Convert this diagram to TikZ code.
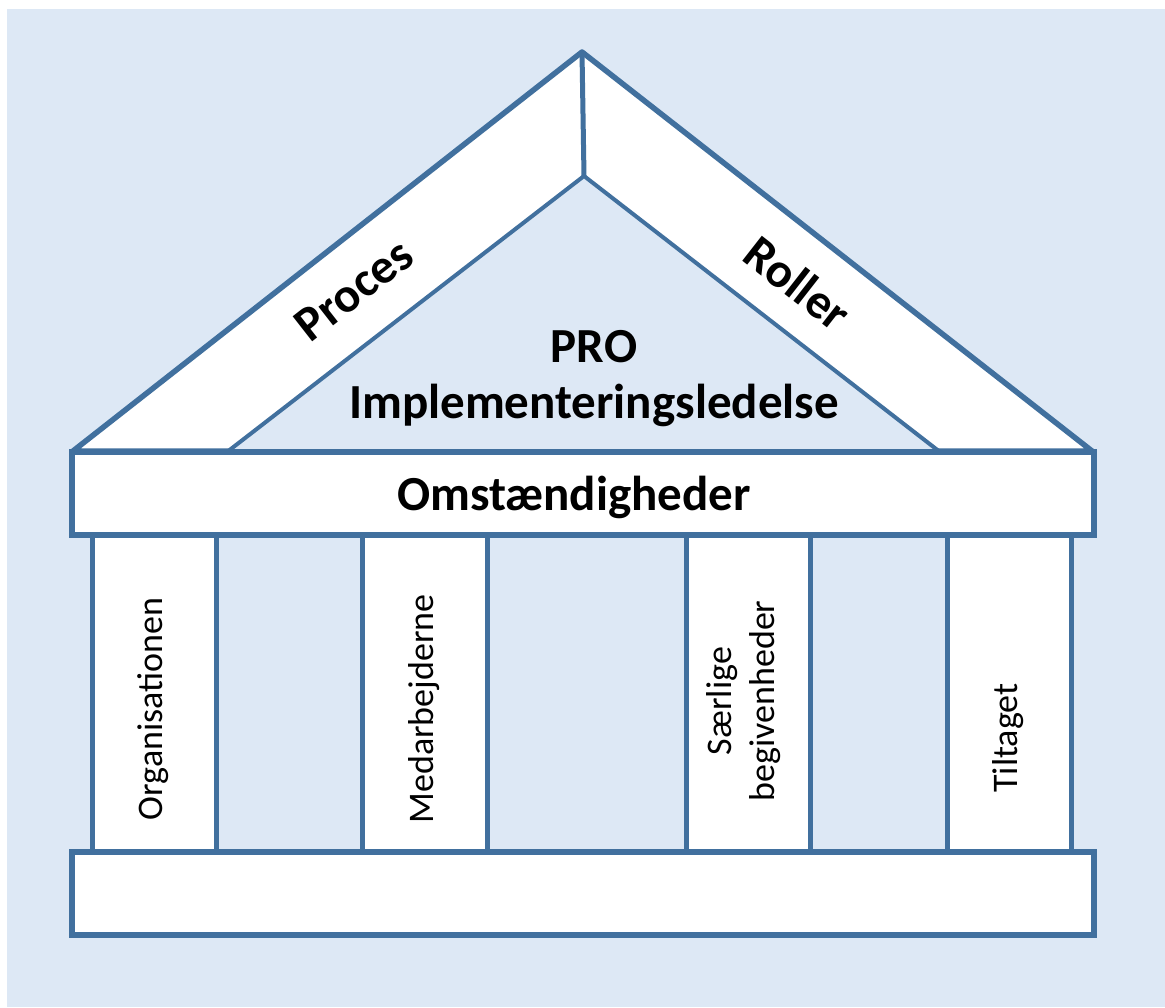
\documentclass[tikz,border=0pt]{standalone}
\usepackage{fontspec}
\setmainfont{Carlito}
\definecolor{bgblue}{HTML}{DDE8F5}
\definecolor{edge}{HTML}{41709E}
\begin{document}
\begin{tikzpicture}[x=1pt,y=-1pt,
  thickbox/.style={draw=edge,line width=6.5pt,fill=white},
  pillar/.style={draw=edge,line width=5pt,fill=white},
  roof/.style={draw=edge,line width=5.5pt,fill=white,line join=round},
  inner/.style={draw=edge,line width=4pt,fill=bgblue,line join=round},
  bold/.style={font=\fontsize{49}{56}\selectfont\bfseries,align=center,inner sep=0pt},
  plabel/.style={font=\fontsize{36}{43}\selectfont,align=center,inner sep=0pt,rotate=90}]
\useasboundingbox (0,0) rectangle (1165,1007);
\fill[white] (0,0) rectangle (1165,1007);
\fill[bgblue] (7,9) rectangle (1165,1007);
% roof
\coordinate (apex) at (582,52);
\coordinate (iapex) at (584,176);
\coordinate (ol) at (73,451);
\coordinate (or) at (1092,451);
\coordinate (il) at (227,452);
\coordinate (ir) at (940,452);
\path[roof] (ol) -- (apex) -- (or) -- cycle;
\path[inner] (il) -- (iapex) -- (ir) -- cycle;
\draw[edge,line width=5pt] (apex) -- (iapex);
% beam
\path[thickbox] (72,452) rectangle (1094,535);
% pillars
\path[pillar] (92,535) rectangle (216,851);
\path[pillar] (362,535) rectangle (487,851);
\path[pillar] (686,535) rectangle (810,851);
\path[pillar] (947,535) rectangle (1071,851);
% base
\path[thickbox] (72,852) rectangle (1094,935);
% texts
\node[bold,rotate=38] (proces) at (354,290) {Proces};
\node[bold,rotate=-38] (roller) at (798,283) {Roller};
\node[bold] (pro) at (594,379) {PRO\\Implementeringsledelse};
\node[bold] (omst) at (574,497) {Omstændigheder};
\node[plabel] (org) at (153,709) {Organisationen};
\node[plabel] (med) at (424,709) {Medarbejderne};
\node[plabel] (saer) at (744,701) {Særlige\\begivenheder};
\node[plabel] (tilt) at (1008,738) {Tiltaget};
\end{tikzpicture}
\end{document}
